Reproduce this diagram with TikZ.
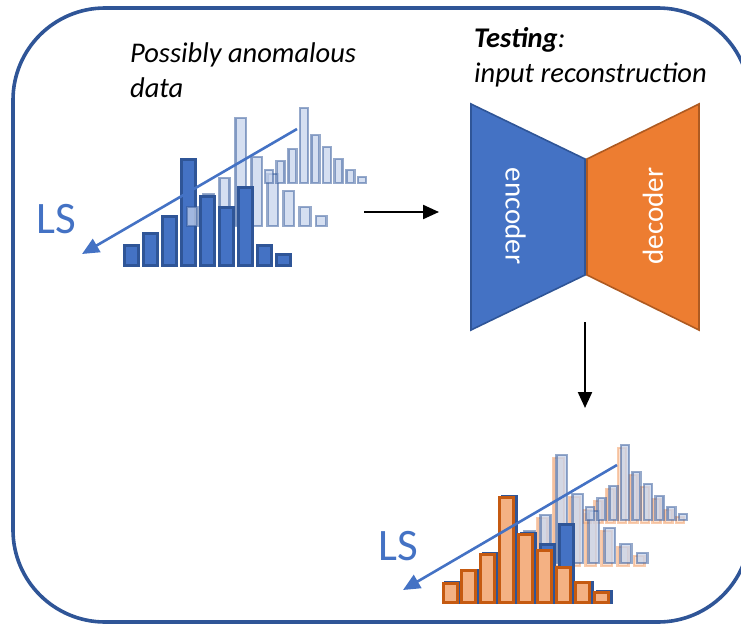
\documentclass[tikz,border=0pt]{standalone}
\usepackage{fontspec}
\setmainfont{Carlito}
\usetikzlibrary{arrows.meta}
\definecolor{accblue}{HTML}{4472C4}
\definecolor{darkblue}{HTML}{2F5597}
\definecolor{accorange}{HTML}{ED7D31}
\definecolor{darkorange}{HTML}{AE5A21}
\definecolor{lightorange}{HTML}{F4B183}
\definecolor{burnt}{HTML}{C55A11}
\definecolor{ghostblue}{HTML}{C5D3EC}
\definecolor{ghostorange}{HTML}{F8CBAD}
\begin{document}
\begin{tikzpicture}[x=1pt,y=-1pt,
 solidbar/.style={fill=accblue,draw=darkblue,line width=3pt},
 orangebar/.style={fill=lightorange,draw=burnt,line width=3pt},
 ghostbar/.style={fill=ghostblue,fill opacity=0.72,draw=darkblue,draw opacity=0.5,line width=2.6pt},
 oghostbar/.style={fill=ghostorange,fill opacity=0.55,draw=lightorange,draw opacity=0.65,line width=2.6pt},
 captiontext/.style={font=\fontsize{28.5}{34}\selectfont\itshape,anchor=base west,inner sep=0pt},
 lsarrow/.style={draw=accblue,line width=2.6pt,-{Triangle[length=17pt,width=15pt]}},
 flow/.style={draw=black,line width=2.2pt,-{Triangle[length=16pt,width=14pt]}},
 lstext/.style={text=accblue,font=\fontsize{45}{45}\selectfont,anchor=base west,inner sep=0pt},
 enctext/.style={text=white,font=\fontsize{29}{29}\selectfont,inner sep=0pt}]

\useasboundingbox (0,0) rectangle (741,626);
\clip (0,0) rectangle (741,626);
\draw[darkblue,line width=3.6pt,rounded corners=92pt] (13,8) rectangle (750,622);

% ---------- top histogram group ----------
\foreach \h [count=\i from 0] in {34,50,110,71,54,37,21,12}
  \draw[ghostbar] ({202.1+16.1*\i+1},226) rectangle ++(10.5,{-(\h-2)});
\foreach \h [count=\i from 0] in {15,24,36,77,50,38,26,15,8}
  \draw[ghostbar] ({264+11.6*\i+1},183) rectangle ++(8,{-(\h-2)});
\foreach \h [count=\i from 0] in {22,34,51,108,71,60,80,22,13}
  \draw[solidbar] ({123+19*\i+1},265) rectangle ++(14,{-(\h-2)});
\draw[ghostbar] (187,226) rectangle ++(10.5,-19);
\coordinate (ls1s) at (297,129);
\coordinate (ls1e) at (82,254);
\draw[lsarrow] (ls1s) -- (ls1e);
\node[lstext] (ls1) at (36,233) {LS};

% ---------- texts ----------
\node[captiontext] (pa) at (130,63) {Possibly anomalous};
\node[captiontext] (pd) at (130,97) {data};
\node[captiontext] (tt) at (474,48) {\bfseries Testing\mdseries:};
\node[captiontext] (ti) at (474,82) {input reconstruction};

% ---------- encoder / decoder ----------
\draw[fill=accblue,draw=darkblue,line width=1.6pt] (471,104) -- (585,159) -- (585,275) -- (471,330) -- cycle;
\draw[fill=accorange,draw=darkorange,line width=1.6pt] (587,159) -- (699,104) -- (699,330) -- (587,275) -- cycle;
\node[enctext,rotate=-90] (enc) at (515.5,216) {encoder};
\node[enctext,rotate=90] (dec) at (653,216) {decoder};

% ---------- flow arrows ----------
\coordinate (a1s) at (364,212);
\coordinate (a1e) at (439,212);
\draw[flow] (a1s) -- (a1e);
\coordinate (a2s) at (585,322);
\coordinate (a2e) at (585,408);
\draw[flow] (a2s) -- (a2e);

% ---------- bottom histogram group ----------
\foreach \h [count=\i from 0] in {21,34,50,110,71,54,37,21,12}
  \draw[oghostbar] ({504+16.1*\i+1},566) rectangle ++(10.5,{-(\h-2)});
\foreach \h [count=\i from 0] in {15,24,36,77,50,38,26,15,8}
  \draw[oghostbar] ({582+11.6*\i+1},523) rectangle ++(8,{-(\h-2)});
\foreach \h [count=\i from 0] in {21,34,50,110,71,54,37,21,12}
  \draw[ghostbar] ({507+16.1*\i+1},563) rectangle ++(10.5,{-(\h-2)});
\foreach \h [count=\i from 0] in {15,24,36,77,50,38,26,15,8}
  \draw[ghostbar] ({585+11.6*\i+1},520) rectangle ++(8,{-(\h-2)});
\foreach \h [count=\i from 0] in {22,34,51,108,71,60,80,22,13}
  \draw[solidbar] ({444+19*\i+1},602) rectangle ++(14,{-(\h-2)});
\foreach \h [count=\i from 0] in {21,34,50,107,70,54,37,22,12}
  \draw[orangebar] ({442+18.9*\i+1},602) rectangle ++(14,{-(\h-2)});
\coordinate (ls2s) at (617,465);
\coordinate (ls2e) at (403,590);
\draw[lsarrow] (ls2s) -- (ls2e);
\node[lstext] (ls2) at (378,560) {LS};
\end{tikzpicture}
\end{document}
